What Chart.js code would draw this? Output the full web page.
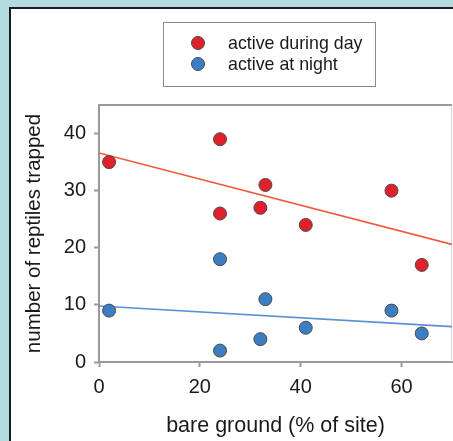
<!DOCTYPE html>
<html>
<head>
<meta charset="utf-8">
<script src="https://cdn.jsdelivr.net/npm/chart.js@4/dist/chart.umd.min.js"></script>
<style>
  body { margin: 0; background: #b3dbe1; width: 453px; height: 441px; overflow: hidden; position: relative; }
  #panel { position: absolute; left: 9px; top: 7px; width: 470px; height: 460px; background: #fff; border: 2px solid #1c1c1c; }
  #chart { position: absolute; left: 0; top: 0; }
</style>
</head>
<body>
<div id="panel"></div>
<canvas id="chart" width="453" height="441"></canvas>
<script>
// bare ground (% of site) per site
const bareGround = [2, 24, 24, 32, 33, 41, 58, 64];
const dayReptiles = [35, 39, 26, 27, 31, 24, 30, 17];
const nightReptiles = [9, 18, 2, 4, 11, 6, 9, 5];

// fitted trend lines, read at the two ends of the x axis
const trendX = [0, 70];
const dayTrend = [36.6, 20.6];
const nightTrend = [9.8, 6.2];

const labels = ['active during day', 'active at night'];

function toPoints(xs, ys) {
    return xs.map((x, i) => ({ x: x, y: ys[i] }));
}

const font = 'Liberation Sans, Arial, sans-serif';

// legend drawn as a framed box, like the original
const boxLegend = {
    id: 'boxLegend',
    afterDraw(chart) {
        const ctx = chart.ctx;
        ctx.save();
        ctx.strokeStyle = '#8a8a8a';
        ctx.lineWidth = 1;
        ctx.strokeRect(163.5, 22.5, 212, 64);
        ctx.font = '17.8px ' + font;
        ctx.textBaseline = 'middle';
        for (let i = 0; i < 2; i++) {
            const ds = chart.data.datasets[i];
            const y = 43 + 21 * i;
            ctx.beginPath();
            ctx.arc(198, y, 6.5, 0, Math.PI * 2);
            ctx.fillStyle = ds.backgroundColor;
            ctx.fill();
            ctx.strokeStyle = ds.borderColor;
            ctx.stroke();
            ctx.fillStyle = '#1a1a1a';
            ctx.fillText(ds.label, 228, y + 1);
        }
        ctx.restore();
    }
};

// top and right frame of the plot area
const frame = {
    id: 'frame',
    beforeDatasetsDraw(chart) {
        const a = chart.chartArea;
        const ctx = chart.ctx;
        ctx.save();
        ctx.strokeStyle = '#d8d8d8';
        ctx.lineWidth = 1;
        ctx.beginPath();
        ctx.moveTo(a.right - 0.5, a.top);
        ctx.lineTo(a.right - 0.5, a.bottom);
        ctx.stroke();
        ctx.strokeStyle = '#9a9a9a';
        ctx.lineWidth = 2;
        ctx.beginPath();
        ctx.moveTo(a.left, a.top);
        ctx.lineTo(a.right, a.top);
        ctx.stroke();
        ctx.restore();
    }
};

new Chart(document.getElementById('chart'), {
    type: 'scatter',
    data: {
        datasets: [{
            label: labels[0],
            data: toPoints(bareGround, dayReptiles),
            backgroundColor: '#e0202a',
            borderColor: '#4a4a4a',
            borderWidth: 1,
            pointRadius: 6.5,
            order: 1
        }, {
            label: labels[1],
            data: toPoints(bareGround, nightReptiles),
            backgroundColor: '#3b7ec2',
            borderColor: '#4a4a4a',
            borderWidth: 1,
            pointRadius: 6.5,
            order: 1
        }, {
            type: 'line',
            label: 'day trend',
            data: toPoints(trendX, dayTrend),
            borderColor: '#f05a3c',
            borderWidth: 1.6,
            pointRadius: 0,
            order: 2
        }, {
            type: 'line',
            label: 'night trend',
            data: toPoints(trendX, nightTrend),
            borderColor: '#5c8fd6',
            borderWidth: 1.6,
            pointRadius: 0,
            order: 2
        }]
    },
    options: {
        responsive: false,
        animation: false,
        layout: { autoPadding: false, padding: { left: 0, top: 105, right: 1, bottom: 0 } },
        plugins: {
            legend: { display: false },
            tooltip: { enabled: false }
        },
        scales: {
            x: {
                type: 'linear',
                min: 0,
                max: 70,
                afterBuildTicks: s => { s.ticks = s.ticks.filter(t => t.value % 20 === 0); },
                afterFit: s => { s.height = 79; s.paddingLeft = 0; s.paddingRight = 0; },
                ticks: { stepSize: 20, color: '#1a1a1a', padding: 8, font: { family: font, size: 20 } },
                grid: { drawOnChartArea: false, tickLength: 5, tickColor: '#9a9a9a', tickWidth: 2 },
                border: { color: '#9a9a9a', width: 2 },
                title: {
                    display: true,
                    text: 'bare ground (% of site)',
                    color: '#1a1a1a',
                    font: { family: font, size: 21.5 },
                    padding: { top: 0, bottom: 2 }
                }
            },
            y: {
                min: 0,
                max: 45,
                afterBuildTicks: s => { s.ticks = s.ticks.filter(t => t.value % 10 === 0); },
                afterFit: s => { s.width = 99; s.paddingTop = 0; s.paddingBottom = 0; },
                ticks: { stepSize: 10, color: '#1a1a1a', padding: 8, font: { family: font, size: 20 } },
                grid: { drawOnChartArea: false, tickLength: 5, tickColor: '#9a9a9a', tickWidth: 2 },
                border: { color: '#9a9a9a', width: 2 },
                title: {
                    display: true,
                    text: 'number of reptiles trapped',
                    color: '#1a1a1a',
                    font: { family: font, size: 20.5 },
                    padding: { top: 22, bottom: 0 }
                }
            }
        }
    },
    plugins: [frame, boxLegend]
});
</script>
</body>
</html>
